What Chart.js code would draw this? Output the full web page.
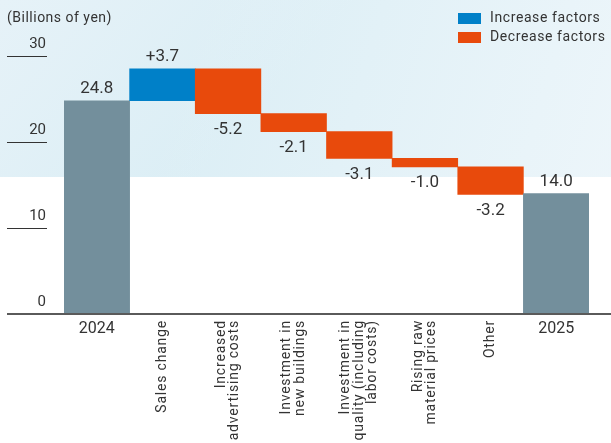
<!DOCTYPE html>
<html>
<head>
<meta charset="utf-8">
<script src="https://cdn.jsdelivr.net/npm/chart.js@4.4.1/dist/chart.umd.min.js"></script>
<style>
  html, body { margin: 0; padding: 0; background: #fff; }
  #wrap { width: 611px; height: 443px; position: relative; }
</style>
</head>
<body>
<div id="wrap"><canvas id="canvas" width="611" height="443"></canvas></div>
<script>
// data
const categories = [
  ["2024"],
  ["Sales change"],
  ["Increased", "advertising costs"],
  ["Investment in", "new buildings"],
  ["Investment in", "quality (including", "labor costs)"],
  ["Rising raw", "material prices"],
  ["Other"],
  ["2025"],
];
const kinds = ["total", "up", "down", "down", "down", "down", "down", "total"];
const changes = [24.8, 3.7, -5.2, -2.1, -3.1, -1.0, -3.2, 14.0];
const yTicks = [0, 10, 20, 30];
const legendLabels = ["Increase factors", "Decrease factors"];
const unitLabel = "(Billions of yen)";

const colors = { total: "#738f9c", up: "#0080c8", down: "#e84a0c" };
const FONT = "Roboto, 'DejaVu Sans', sans-serif";
const TEXT = "#333333";

// build floating bars for the waterfall
let running = 0;
const ranges = changes.map((v, i) => {
  if (kinds[i] === "total") {
    running = v;
    return [0, v];
  }
  const start = running;
  running = running + v;
  return [start, running];
});
const valueLabels = changes.map((v, i) => {
  if (kinds[i] === "total") return v.toFixed(1);
  return (v > 0 ? "+" : "") + v.toFixed(1);
});

const waterfallPlugin = {
  id: "waterfall",
  beforeDraw(chart) {
    const ctx = chart.ctx;
    ctx.save();
    ctx.fillStyle = "#ffffff";
    ctx.fillRect(0, 0, chart.width, chart.height);
    const g = ctx.createLinearGradient(0, 0, 200, 177);
    g.addColorStop(0, "#e6f2f8");
    g.addColorStop(1, "#dbeef5");
    ctx.fillStyle = g;
    ctx.fillRect(0, 0, chart.width, 177);
    const g2 = ctx.createLinearGradient(200, 0, 611, 120);
    g2.addColorStop(0, "rgba(240,247,251,0)");
    g2.addColorStop(1, "rgba(240,247,251,0.8)");
    ctx.fillStyle = g2;
    ctx.fillRect(0, 0, chart.width, 177);
    ctx.restore();
  },
  afterDraw(chart) {
    const ctx = chart.ctx;
    const x = chart.scales.x;
    const y = chart.scales.y;
    ctx.save();

    // unit label
    ctx.fillStyle = TEXT;
    ctx.font = "14px " + FONT;
    ctx.letterSpacing = "0.5px";
    ctx.textAlign = "left";
    ctx.textBaseline = "middle";
    ctx.fillText(unitLabel, 7, 18);
    ctx.letterSpacing = "0px";

    // y ticks: short rules with label above
    ctx.font = "15px " + FONT;
    ctx.textAlign = "right";
    yTicks.forEach((t) => {
      const py = Math.round(y.getPixelForValue(t));
      if (t !== 0) {
        ctx.strokeStyle = "#333";
        ctx.lineWidth = 1;
        ctx.beginPath();
        ctx.moveTo(7, py + 0.5);
        ctx.lineTo(47, py + 0.5);
        ctx.stroke();
      }
      ctx.fillText(String(t), 46, py - 12);
    });

    // baseline
    const by = y.getPixelForValue(0);
    ctx.strokeStyle = "#5a5a5a";
    ctx.lineWidth = 2;
    ctx.beginPath();
    ctx.moveTo(7, by);
    ctx.lineTo(chart.width, by);
    ctx.stroke();

    // value labels
    ctx.font = "17px " + FONT;
    ctx.textAlign = "center";
    ctx.textBaseline = "middle";
    ranges.forEach((r, i) => {
      const cx = x.getPixelForValue(i);
      const top = y.getPixelForValue(Math.max(r[0], r[1]));
      const bottom = y.getPixelForValue(Math.min(r[0], r[1]));
      if (kinds[i] === "down") {
        ctx.fillText(valueLabels[i], cx, bottom + 16);
      } else {
        ctx.fillText(valueLabels[i], cx, top - 12);
      }
    });

    // category labels
    categories.forEach((lines, i) => {
      const cx = x.getPixelForValue(i);
      if (kinds[i] === "total") {
        ctx.font = "16px " + FONT;
        ctx.letterSpacing = "0px";
        ctx.textAlign = "center";
        ctx.textBaseline = "middle";
        ctx.fillText(lines[0], cx, by + 15);
        return;
      }
      ctx.save();
      ctx.font = "14px " + FONT;
      ctx.letterSpacing = "0.8px";
      ctx.translate(cx, by + 6);
      ctx.rotate(-Math.PI / 2);
      ctx.textAlign = "right";
      ctx.textBaseline = "middle";
      lines.forEach((ln, j) => {
        ctx.fillText(ln, 0, (j - (lines.length - 1) / 2) * 13.5);
      });
      ctx.restore();
    });

    // legend
    ctx.font = "14px " + FONT;
    ctx.letterSpacing = "0.6px";
    ctx.textAlign = "left";
    ctx.textBaseline = "middle";
    [colors.up, colors.down].forEach((c, i) => {
      const ly = 13 + i * 19;
      ctx.fillStyle = c;
      ctx.fillRect(458, ly, 23, 11);
      ctx.fillStyle = TEXT;
      ctx.fillText(legendLabels[i], 490, ly + 5.5);
    });

    ctx.restore();
  },
};

const ctx = document.getElementById("canvas").getContext("2d");
new Chart(ctx, {
  type: "bar",
  data: {
    labels: categories.map((c) => c.join(" ")),
    datasets: [
      {
        data: ranges,
        backgroundColor: kinds.map((k) => colors[k]),
        borderWidth: 0,
        barPercentage: 1,
        categoryPercentage: 1,
      },
    ],
  },
  options: {
    responsive: false,
    animation: false,
    layout: { padding: { left: 64, right: 22, top: 56, bottom: 129 } },
    scales: {
      x: { display: false },
      y: { display: false, min: 0, max: 30 },
    },
    plugins: {
      legend: { display: false },
      tooltip: { enabled: false },
    },
  },
  plugins: [waterfallPlugin],
});
</script>
</body>
</html>
